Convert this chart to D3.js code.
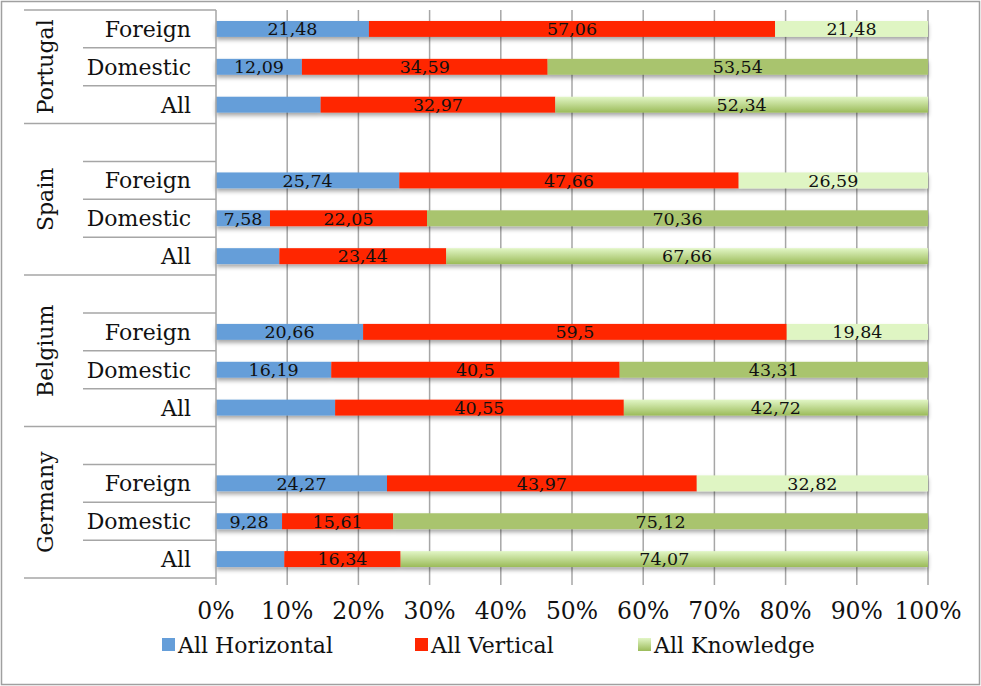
<!DOCTYPE html>
<html>
<head>
<meta charset="utf-8">
<script src="https://cdn.jsdelivr.net/npm/d3@7"></script>
<style>
  body { margin: 0; background: #fff; }
  svg { font-family: "DejaVu Serif", serif; }
</style>
</head>
<body>
<svg id="chart" width="981" height="686"></svg>
<script>
// Data (top to bottom)
const countries = ['Portugal', 'Spain', 'Belgium', 'Germany'];
const groups = ['Foreign', 'Domestic', 'All'];
const seriesNames = ['All Horizontal', 'All Vertical', 'All Knowledge'];
const horizontal = [21.48, 12.09, 14.69, 25.74, 7.58, 8.90, 20.66, 16.19, 16.73, 24.27, 9.28, 9.59];
const vertical   = [57.06, 34.59, 32.97, 47.66, 22.05, 23.44, 59.5, 40.5, 40.55, 43.97, 15.61, 16.34];
const knowledge  = [21.48, 53.54, 52.34, 26.59, 70.36, 67.66, 19.84, 43.31, 42.72, 32.82, 75.12, 74.07];
// the "All Horizontal" labels of the All rows are not shown in the original
const hideLabel = [false, false, true, false, false, true, false, false, true, false, false, true];
const tickValues = [0, 0.1, 0.2, 0.3, 0.4, 0.5, 0.6, 0.7, 0.8, 0.9, 1];

const fmt = v => String(+v.toFixed(2)).replace('.', ',');

// Build row slots: every country after the first gets an empty slot on top
const slots = [];
const rows = [];
countries.forEach((c, ci) => {
  if (ci > 0) slots.push({ key: c + '|', country: c, group: '' });
  groups.forEach((g, gi) => {
    const i = ci * 3 + gi;
    const key = c + '|' + g;
    slots.push({ key, country: c, group: g });
    rows.push({ key, country: c, group: g, h: horizontal[i], v: vertical[i], k: knowledge[i], hide: hideLabel[i] });
  });
});

const svg = d3.select('#chart');
const W = 981, H = 686;
const plotLeft = 216, plotRight = 928, plotTop = 10, plotBottom = 578;
const gridColor = '#a6a6a6';

// outer border
svg.append('rect').attr('x', 1.5).attr('y', 1.5).attr('width', W - 3).attr('height', H - 3)
  .attr('fill', 'none').attr('stroke', '#a0a0a0').attr('stroke-width', 1.5);

const x = d3.scaleLinear().domain([0, 1]).range([plotLeft, plotRight]);
const y = d3.scaleBand().domain(slots.map(d => d.key)).range([plotTop, plotBottom]).paddingInner(0.58).paddingOuter(0.29);
const slotH = (plotBottom - plotTop) / slots.length;
const slotTop = key => plotTop + slots.findIndex(s => s.key === key) * slotH;

// defs: gradient + shadow
const defs = svg.append('defs');
const grad = defs.append('linearGradient').attr('id', 'gGreen').attr('x1', 0).attr('y1', 0).attr('x2', 0).attr('y2', 1);
grad.append('stop').attr('offset', '0%').attr('stop-color', '#e2f6c6');
grad.append('stop').attr('offset', '100%').attr('stop-color', '#9bbb59');
const f = defs.append('filter').attr('id', 'shadow').attr('x', '-5%').attr('y', '-50%').attr('width', '110%').attr('height', '250%');
f.append('feDropShadow').attr('dx', 0).attr('dy', 3).attr('stdDeviation', 2).attr('flood-color', '#000').attr('flood-opacity', 0.35);

// gridlines
svg.append('g').selectAll('line').data(tickValues.slice(1)).join('line')
  .attr('x1', d => x(d)).attr('x2', d => x(d))
  .attr('y1', plotTop).attr('y2', plotBottom + 7)
  .attr('stroke', gridColor).attr('stroke-width', 1.5);

// stacked bars
const stack = d3.stack().keys(['h', 'v', 'k']).offset(d3.stackOffsetExpand);
const stacked = stack(rows);
const colorFor = (si, d) => {
  if (si === 0) return '#659ed9';
  if (si === 1) return '#ff2600';
  if (d.data.group === 'Foreign') return '#dff5c3';
  if (d.data.group === 'Domestic') return '#a9c46e';
  return 'url(#gGreen)';
};

const barG = svg.append('g').attr('filter', 'url(#shadow)');
stacked.forEach((s, si) => {
  barG.selectAll('.s' + si).data(s).join('rect')
    .attr('class', 's' + si)
    .attr('x', d => x(d[0]))
    .attr('width', d => x(d[1]) - x(d[0]))
    .attr('y', d => y(d.data.key))
    .attr('height', y.bandwidth())
    .attr('fill', d => colorFor(si, d));
});

// data labels
const labelG = svg.append('g');
stacked.forEach((s, si) => {
  labelG.selectAll('.l' + si).data(s.filter(d => !(si === 0 && d.data.hide))).join('text')
    .attr('class', 'l' + si)
    .attr('x', d => (x(d[0]) + x(d[1])) / 2)
    .attr('y', d => y(d.data.key) + y.bandwidth() / 2)
    .attr('dy', '0.36em')
    .attr('text-anchor', 'middle')
    .attr('font-size', 17.5)
    .attr('fill', '#111')
    .text(d => fmt(d.data[s.key]));
});

// category axis
const axisG = svg.append('g');
axisG.append('line').attr('x1', plotLeft).attr('x2', plotLeft).attr('y1', plotTop).attr('y2', plotBottom + 7)
  .attr('stroke', gridColor).attr('stroke-width', 1.5);
// row separators
slots.forEach((s, i) => {
  if (i === 0) return;
  const newGroup = s.country !== slots[i - 1].country;
  const yy = plotTop + i * slotH;
  axisG.append('line').attr('x1', newGroup ? 24 : 83).attr('x2', plotLeft).attr('y1', yy).attr('y2', yy)
    .attr('stroke', gridColor).attr('stroke-width', 1.5);
});
[plotTop, plotBottom].forEach(yy => {
  axisG.append('line').attr('x1', 24).attr('x2', plotLeft).attr('y1', yy).attr('y2', yy)
    .attr('stroke', gridColor).attr('stroke-width', 1.5);
});
// group labels
axisG.selectAll('.glab').data(rows).join('text')
  .attr('class', 'glab')
  .attr('x', 191)
  .attr('y', d => y(d.key) + y.bandwidth() / 2)
  .attr('dy', '0.36em')
  .attr('text-anchor', 'end')
  .attr('font-size', 22)
  .attr('fill', '#111')
  .text(d => d.group);
// country labels
countries.forEach(c => {
  const cs = slots.filter(s => s.country === c);
  const y0 = slotTop(cs[0].key), y1 = slotTop(cs[cs.length - 1].key) + slotH;
  axisG.append('text')
    .attr('transform', `translate(53,${(y0 + y1) / 2}) rotate(-90)`)
    .attr('text-anchor', 'middle')
    .attr('font-size', 22)
    .attr('fill', '#111')
    .text(c);
});

// value axis
svg.append('g').selectAll('text').data(tickValues).join('text')
  .attr('x', d => x(d))
  .attr('y', 619)
  .attr('text-anchor', 'middle')
  .attr('font-size', 23.5)
  .attr('fill', '#111')
  .text(d3.format('.0%'));

// legend
const legendX = [162, 415, 638];
const legendFill = ['#659ed9', '#ff2600', 'url(#gGreen)'];
const legend = svg.append('g').selectAll('g').data(seriesNames).join('g')
  .attr('transform', (d, i) => `translate(${legendX[i]},645)`);
legend.append('rect').attr('x', 0).attr('y', -7).attr('width', 13).attr('height', 13)
  .attr('fill', (d, i) => legendFill[i]);
legend.append('text').attr('x', 16).attr('dy', '0.36em').attr('font-size', 22).attr('fill', '#111').text(d => d);
</script>
</body>
</html>
